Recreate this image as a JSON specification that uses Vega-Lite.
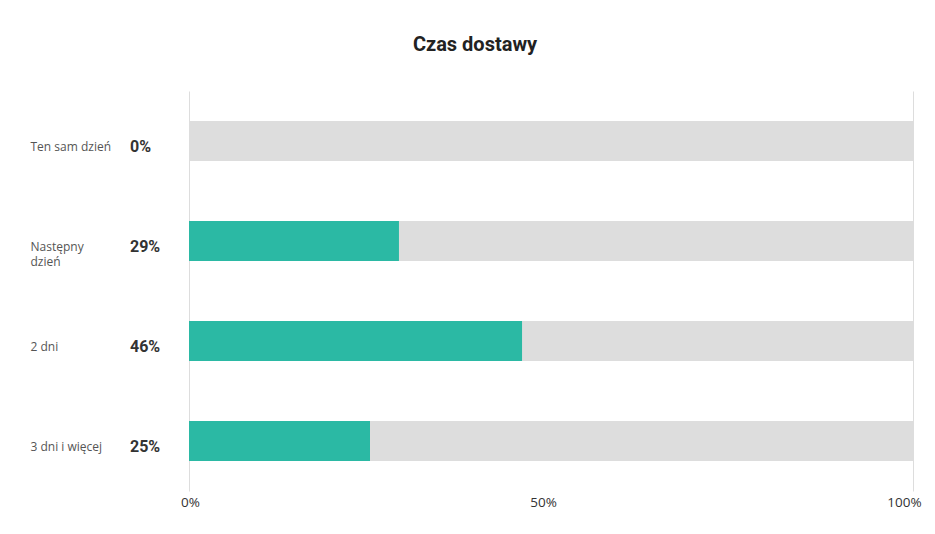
{
  "$schema": "https://vega.github.io/schema/vega-lite/v6.json",
  "autosize": {"type": "none"},
  "width": 724,
  "height": 400,
  "padding": {"left": 189, "top": 91, "right": 22, "bottom": 43},
  "background": "white",
  "view": {"stroke": null},
  "title": {
    "text": "Czas dostawy",
    "font": "Roboto",
    "fontSize": 20,
    "fontWeight": "bold",
    "color": "#222222",
    "anchor": "middle",
    "dx": -76,
    "offset": 36
  },
  "data": {
    "values": [
      {"kategoria": "Ten sam dzień", "udzial": 0, "pelne": 1},
      {"kategoria": "Następny dzień", "udzial": 0.29, "pelne": 1},
      {"kategoria": "2 dni", "udzial": 0.46, "pelne": 1},
      {"kategoria": "3 dni i więcej", "udzial": 0.25, "pelne": 1}
    ]
  },
  "encoding": {
    "y": {
      "field": "kategoria",
      "type": "nominal",
      "sort": null,
      "scale": {"paddingInner": 0.6, "paddingOuter": 0.3},
      "axis": {
        "title": null,
        "domain": false,
        "ticks": false,
        "grid": false,
        "labelAlign": "left",
        "labelBaseline": "top",
        "labelPadding": 159,
        "labelOffset": 1,
        "labelFont": "Open Sans",
        "labelFontSize": 12,
        "labelColor": "#555555",
        "labelLineHeight": 15,
        "labelLimit": 0,
        "labelExpr": "datum.label == 'Następny dzień' ? ['Następny', 'dzień'] : datum.label"
      }
    }
  },
  "layer": [
    {
      "mark": {"type": "bar", "color": "#dddddd"},
      "encoding": {
        "x": {
          "field": "pelne",
          "type": "quantitative",
          "scale": {"domain": [0, 1]},
          "axis": {
            "title": null,
            "values": [0, 0.5, 1],
            "format": ".0%",
            "domain": false,
            "ticks": false,
            "labelFlush": false,
            "labelPadding": 4,
            "labelFont": "Open Sans",
            "labelFontSize": 13.5,
            "labelColor": "#333333",
            "labelOffset": {"condition": [
              {"test": "datum.value == 0.5", "value": -8},
              {"test": "datum.value == 1", "value": -9}
            ], "value": 1},
            "grid": true,
            "gridColor": "#dddddd",
            "gridOpacity": {"condition": {"test": "datum.value == 0.5", "value": 0}, "value": 1}
          }
        }
      }
    },
    {
      "mark": {"type": "bar", "color": "#2bb9a4"},
      "encoding": {
        "x": {"field": "udzial", "type": "quantitative"}
      }
    },
    {
      "mark": {
        "type": "text",
        "align": "left",
        "baseline": "middle",
        "dx": -59,
        "dy": 6,
        "font": "Roboto",
        "fontSize": 16,
        "fontWeight": "bold",
        "color": "#333333"
      },
      "encoding": {
        "x": {"datum": 0},
        "text": {"field": "udzial", "type": "quantitative", "format": ".0%"}
      }
    }
  ]
}
